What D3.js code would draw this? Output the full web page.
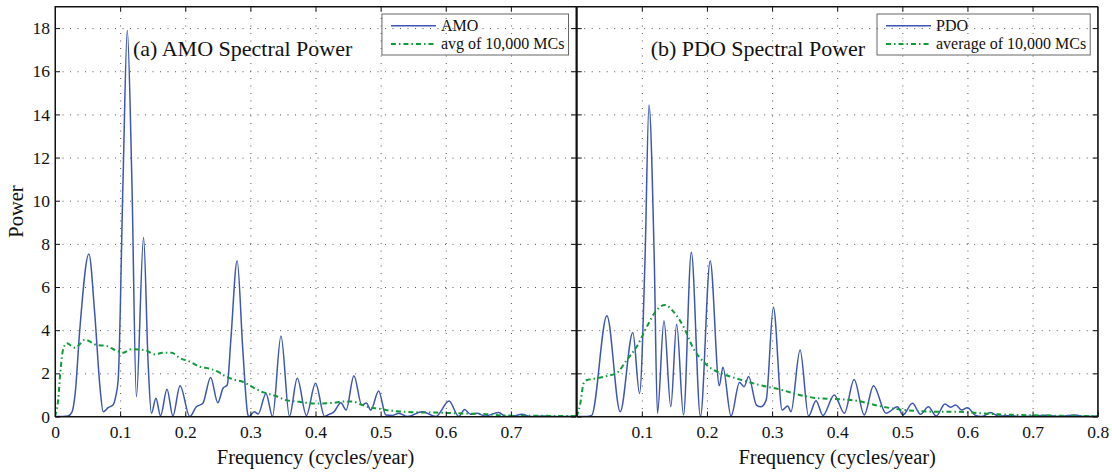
<!DOCTYPE html>
<html>
<head>
<meta charset="utf-8">
<script src="https://cdn.jsdelivr.net/npm/d3@7"></script>
<style>
  html, body { margin: 0; padding: 0; background: #fff; }
  svg text { font-family: "Liberation Serif", "DejaVu Serif", serif; fill: #111; }
  .grid line { stroke: #555; stroke-width: 1; stroke-dasharray: 1, 6.5; }
  .grid path { display: none; }
  .ax path, .ax line { stroke: #111; stroke-width: 1; }
</style>
</head>
<body>
<svg id="chart" width="1112" height="472"></svg>
<script>
// Periodogram of the AMO index: [frequency (cycles/year), power]
const amoSpectrum = [
  [0,0],[0.012,0],[0.02,0.02],[0.026,0.2],[0.031,1.07],[0.038,4.0],[0.052,7.53],
  [0.061,4.78],[0.069,1.38],[0.074,0.22],[0.082,0.42],[0.089,0.53],[0.093,0.9],
  [0.097,1.69],[0.1045,11],[0.111,17.9],[0.118,11],[0.125,0.92],[0.136,8.3],
  [0.143,2.47],[0.148,0.15],[0.155,0.84],[0.162,0.03],[0.172,1.26],[0.181,0.02],
  [0.192,1.43],[0.207,0],[0.217,0.45],[0.227,0.61],[0.239,1.81],[0.25,0.64],
  [0.258,1.31],[0.2645,1.46],[0.27,3.55],[0.2797,7.22],[0.2884,3.08],[0.296,0.1],
  [0.298,0],[0.306,0.22],[0.312,0.12],[0.324,1.07],[0.334,0],[0.347,3.73],[0.36,0],
  [0.372,1.77],[0.386,0.05],[0.400,1.54],[0.414,0],[0.421,0.1],[0.428,0.2],
  [0.439,0.64],[0.447,0.3],[0.459,1.89],[0.471,0.53],[0.478,0.62],[0.485,0.3],
  [0.497,1.18],[0.508,0.07],[0.518,0.05],[0.528,0.15],[0.541,0],[0.564,0.22],
  [0.585,0],[0.605,0.72],[0.62,0],[0.629,0.33],[0.638,0.1],[0.648,0.15],[0.66,0.02],
  [0.681,0.18],[0.693,0],[0.705,0.03],[0.717,0.1],[0.73,0],[0.75,0.02],[0.77,0],[0.8,0.01]
];

// Mean AMO periodogram over 10,000 Monte Carlo surrogates
const amoMonteCarlo = [
  [0,0],[0.0025,0.3],[0.005,0.8],[0.008,2.0],[0.013,3.17],[0.018,3.39],[0.024,3.3],
  [0.031,3.18],[0.038,3.35],[0.046,3.56],[0.055,3.45],[0.064,3.31],[0.079,3.27],
  [0.092,3.08],[0.105,2.96],[0.117,3.12],[0.130,3.1],[0.140,3.06],[0.153,2.88],
  [0.166,2.96],[0.179,2.96],[0.191,2.72],[0.207,2.54],[0.222,2.31],[0.237,2.22],
  [0.25,2.08],[0.263,1.85],[0.276,1.7],[0.289,1.6],[0.304,1.35],[0.319,1.13],
  [0.337,0.97],[0.355,0.76],[0.375,0.68],[0.40,0.6],[0.426,0.63],[0.445,0.7],
  [0.457,0.69],[0.472,0.53],[0.482,0.43],[0.498,0.36],[0.508,0.3],[0.523,0.25],
  [0.549,0.2],[0.585,0.18],[0.625,0.14],[0.661,0.11],[0.686,0.05],[0.702,0.04],
  [0.75,0.03],[0.8,0.02]
];

// Periodogram of the PDO index
const pdoSpectrum = [
  [0,0],[0.015,0],[0.023,0.05],[0.0464,4.67],[0.0668,0.22],[0.0862,3.89],
  [0.0965,1.07],[0.105,7.4],[0.111,14.44],[0.119,7.4],[0.124,0.15],[0.134,4.44],
  [0.1445,0.45],[0.1535,4.27],[0.164,0.07],[0.176,7.61],[0.19,0],[0.205,7.21],
  [0.219,1.43],[0.2245,2.28],[0.237,0.02],[0.25,1.57],[0.257,1.38],[0.264,1.85],
  [0.276,0.53],[0.283,0.45],[0.291,0.77],[0.302,5.06],[0.3155,0.3],[0.324,0.49],
  [0.329,0.22],[0.343,3.08],[0.356,0.02],[0.3675,0.73],[0.378,0.05],[0.3955,1.0],
  [0.411,0.15],[0.426,1.72],[0.4415,0.07],[0.4557,1.43],[0.475,0.15],[0.4925,0.45],
  [0.501,0.07],[0.5155,0.61],[0.528,0.1],[0.54,0.45],[0.552,0.02],[0.5655,0.58],
  [0.574,0.43],[0.582,0.53],[0.591,0.3],[0.6,0.41],[0.6125,0.05],[0.622,0],
  [0.6355,0.18],[0.648,0.02],[0.665,0.04],[0.68,0],[0.7,0.02],[0.72,0.06],[0.74,0.01],
  [0.765,0.07],[0.78,0.01],[0.8,0.02]
];

// Mean PDO periodogram over 10,000 Monte Carlo surrogates
const pdoMonteCarlo = [
  [0,0],[0.0055,0.61],[0.0107,1.54],[0.0158,1.69],[0.031,1.77],[0.0464,1.88],
  [0.062,2.03],[0.077,2.62],[0.0923,3.24],[0.1077,4.16],[0.123,4.94],[0.1357,5.17],
  [0.1485,4.86],[0.164,4.16],[0.179,3.16],[0.1945,2.54],[0.21,2.16],[0.2195,2.03],
  [0.25,1.72],[0.2806,1.46],[0.311,1.26],[0.342,1.0],[0.3726,0.84],[0.403,0.8],
  [0.43,0.73],[0.464,0.49],[0.495,0.33],[0.526,0.25],[0.556,0.22],[0.587,0.22],
  [0.618,0.15],[0.648,0.1],[0.679,0.07],[0.71,0.05],[0.76,0.03],[0.8,0.02]
];

const powerTicks = [0, 2, 4, 6, 8, 10, 12, 14, 16, 18];
const freqTicksA = [0, 0.1, 0.2, 0.3, 0.4, 0.5, 0.6, 0.7];
const freqTicksB = [0.1, 0.2, 0.3, 0.4, 0.5, 0.6, 0.7, 0.8];
const gridFreqs = [0.1, 0.2, 0.3, 0.4, 0.5, 0.6, 0.7];

const panels = [
  { title: "(a) AMO Spectral Power", series: amoSpectrum, mc: amoMonteCarlo,
    names: ["AMO", "avg of 10,000 MCs"], ticks: freqTicksA, left: 55, titleX: 78, yLabels: true },
  { title: "(b) PDO Spectral Power", series: pdoSpectrum, mc: pdoMonteCarlo,
    names: ["PDO", "average of 10,000 MCs"], ticks: freqTicksB, left: 576.7, titleX: 74, yLabels: false }
];

const blue = "#3d56b2", green = "#11993a";
const marginTop = 6.5, pw = 521, ph = 410;
const svg = d3.select("#chart");

const y = d3.scaleLinear().domain([0, 19]).range([ph, 0]);
const x = d3.scaleLinear().domain([0, 0.8]).range([0, pw]);

panels.forEach((p, i) => {
  const g = svg.append("g").attr("transform", `translate(${p.left},${marginTop})`);

  g.append("clipPath").attr("id", "clip" + i)
    .append("rect").attr("width", pw).attr("height", ph);

  // dotted grid
  g.append("g").attr("class", "grid")
    .attr("transform", `translate(0,${ph})`)
    .call(d3.axisBottom(x).tickValues(gridFreqs).tickSize(-ph).tickFormat(""));
  g.append("g").attr("class", "grid")
    .call(d3.axisLeft(y).tickValues(powerTicks.filter(v => v > 0)).tickSize(-pw).tickFormat(""));

  const line = d3.line().x(d => x(d[0])).y(d => y(d[1])).curve(d3.curveMonotoneX);
  const plot = g.append("g").attr("clip-path", `url(#clip${i})`);
  plot.append("path").datum(p.series).attr("d", line)
    .attr("fill", "none").attr("stroke", blue).attr("stroke-width", 1.5);
  plot.append("path").datum(p.mc).attr("d", line)
    .attr("fill", "none").attr("stroke", green).attr("stroke-width", 2)
    .attr("stroke-dasharray", "5,3,1.5,3");

  // axes with inward ticks on all four sides
  const bottom = g.append("g").attr("class", "ax").attr("transform", `translate(0,${ph})`)
    .call(d3.axisBottom(x).tickValues(p.ticks).tickSizeInner(-5).tickSizeOuter(0)
      .tickPadding(9).tickFormat(d => d === 0 ? "0" : d3.format(".1f")(d)));
  bottom.selectAll("text").attr("font-size", 17.5);

  const leftAx = g.append("g").attr("class", "ax")
    .call(d3.axisLeft(y).tickValues(powerTicks).tickSizeInner(-5).tickSizeOuter(0)
      .tickPadding(5).tickFormat(p.yLabels ? d3.format("d") : ""));
  leftAx.selectAll("text").attr("font-size", 17.5);

  g.append("g").attr("class", "ax").attr("transform", `translate(${pw},0)`)
    .call(d3.axisRight(y).tickValues(powerTicks).tickSizeInner(-5).tickSizeOuter(0).tickFormat(""));
  g.append("g").attr("class", "ax")
    .call(d3.axisTop(x).tickValues(gridFreqs).tickSizeInner(-5).tickSizeOuter(0).tickFormat(""));

  g.append("rect").attr("width", pw).attr("height", ph)
    .attr("fill", "none").attr("stroke", "#111").attr("stroke-width", 1);

  // panel title
  g.append("text").attr("x", p.titleX).attr("y", 49.5)
    .attr("font-size", 22).text(p.title);

  // legend
  const lg = g.append("g");
  const rows = [
    { name: p.names[0], color: blue, w: 1.5, dash: null, yy: 19.2 },
    { name: p.names[1], color: green, w: 2, dash: "5,3,1.5,3", yy: 37.5 }
  ];
  const texts = rows.map(r => lg.append("text").attr("font-size", 16)
    .attr("y", r.yy).attr("dy", "0.33em").text(r.name));
  const tw = d3.max(texts, t => t.node().getComputedTextLength());
  const boxW = 9 + 45 + 5 + tw + 4;
  const boxX = pw - 7.5 - boxW;
  lg.insert("rect", ":first-child").attr("x", boxX).attr("y", 7.5)
    .attr("width", boxW).attr("height", 41)
    .attr("fill", "none").attr("stroke", "#666").attr("stroke-width", 1);
  rows.forEach((r, k) => {
    lg.append("line").attr("x1", boxX + 9).attr("x2", boxX + 54)
      .attr("y1", r.yy).attr("y2", r.yy)
      .attr("stroke", r.color).attr("stroke-width", r.w)
      .attr("stroke-dasharray", r.dash);
    texts[k].attr("x", boxX + 59);
  });

  // x axis title
  g.append("text").attr("x", pw / 2).attr("y", ph + 47.5)
    .attr("text-anchor", "middle").attr("font-size", 20.5)
    .text("Frequency (cycles/year)");
});

// y axis title
svg.append("text").attr("transform", `translate(23,${marginTop + ph / 2}) rotate(-90)`)
  .attr("text-anchor", "middle").attr("font-size", 20.5).text("Power");
</script>
</body>
</html>
